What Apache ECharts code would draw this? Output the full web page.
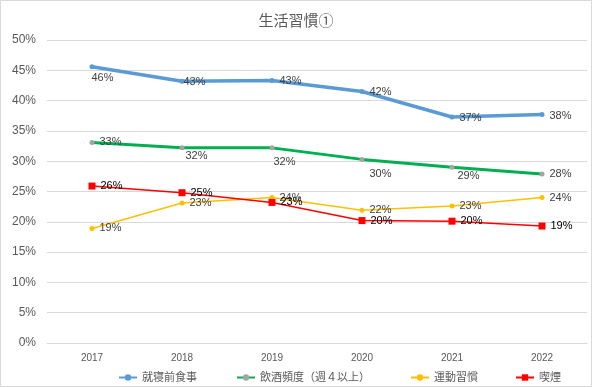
<!DOCTYPE html>
<html><head><meta charset="utf-8">
<script src="https://cdn.jsdelivr.net/npm/echarts@6/dist/echarts.min.js"></script>
<style>html,body{margin:0;padding:0;background:#fff}#c{width:592px;height:387px}</style>
</head><body><div id="c"></div>
<script>
const years = ['2017','2018','2019','2020','2021','2022'];
const seriesNames = ['就寝前食事','飲酒頻度（週４以上）','運動習慣','喫煙'];
const mealBeforeSleep = [45.6, 43.2, 43.3, 41.5, 37.3, 37.7];
const drinking = [33.1, 32.2, 32.2, 30.3, 29.0, 27.9];
const exercise = [18.9, 23.1, 24.0, 21.9, 22.6, 24.0];
const smoking = [25.9, 24.8, 23.2, 20.2, 20.1, 19.3];
const yTicks = [0,5,10,15,20,25,30,35,40,45,50];

// label offsets (style only)
const offBlue = [[-8,11],[-6,1],[0,0],[0,0],[0,1],[0,1]];
const offGreen = [[0,0],[-4,8],[-6,14],[0,15],[-2,9],[0,0]];
const offNone = [[0,0],[0,0],[0,0],[0,0],[0,0],[0,0]];

const FONT = "'Liberation Sans','Noto Sans CJK JP',sans-serif";
function build(vals, offs){
  return vals.map((v,i)=>({value:v, label:{offset:offs[i]}}));
}
function mk(name, vals, offs, color, width, symbol, size, symColor, labelColor){
  return {
    name, type:'line', data: build(vals, offs),
    lineStyle:{color, width}, itemStyle:{color: symColor},
    symbol, symbolSize:size, showAllSymbol:true,
    label:{show:true, position:'right', distance:5, color:labelColor, fontSize:11, fontFamily:FONT,
      formatter:p=>Math.round(p.value)+'%'},
    emphasis:{disabled:true}, animation:false, z: 2
  };
}
const chart = echarts.init(document.getElementById('c'), null, {renderer:'canvas'});
const legendLefts = [113, 231, 405, 510];
chart.setOption({
  backgroundColor:'#fff',
  animation:false,
  title:{text:'生活習慣①', left:'center', top:9, textStyle:{fontSize:15, fontWeight:'normal', color:'#595959', fontFamily:FONT}},
  graphic:[{type:'rect', shape:{x:0.5,y:0.5,width:591,height:386}, style:{fill:'none', stroke:'#d9d9d9', lineWidth:1}, silent:true}],
  grid:{left:47, right:5, top:40, bottom:44},
  xAxis:{type:'category', data:years, boundaryGap:true,
    axisLine:{lineStyle:{color:'#d9d9d9'}}, axisTick:{show:false},
    axisLabel:{color:'#595959', fontSize:10, margin:10, fontFamily:FONT}},
  yAxis:{type:'value', min:yTicks[0], max:yTicks[yTicks.length-1], interval:5,
    axisLine:{show:false}, axisTick:{show:false},
    splitLine:{lineStyle:{color:'#d9d9d9'}},
    axisLabel:{color:'#595959', fontSize:12, margin:11, formatter:'{value}%', fontFamily:FONT}},
  legend: seriesNames.map((n,i)=>({data:[n], left:legendLefts[i], top:367, itemWidth:18, itemHeight:8, itemGap:0,
    textStyle:{color:'#595959', fontSize:11, fontFamily:FONT}, selectedMode:false})),
  series:[
    mk(seriesNames[0], mealBeforeSleep, offBlue, '#5B9BD5', 3.5, 'circle', 5, '#5B9BD5', '#404040'),
    mk(seriesNames[1], drinking, offGreen, '#00B050', 3, 'circle', 5, '#A5A5A5', '#404040'),
    mk(seriesNames[2], exercise, offNone, '#FFC000', 1.5, 'circle', 5, '#FFC000', '#404040'),
    mk(seriesNames[3], smoking, offNone, '#FF0000', 1.5, 'rect', 7, '#FF0000', '#000000')
  ]
});
</script></body></html>
